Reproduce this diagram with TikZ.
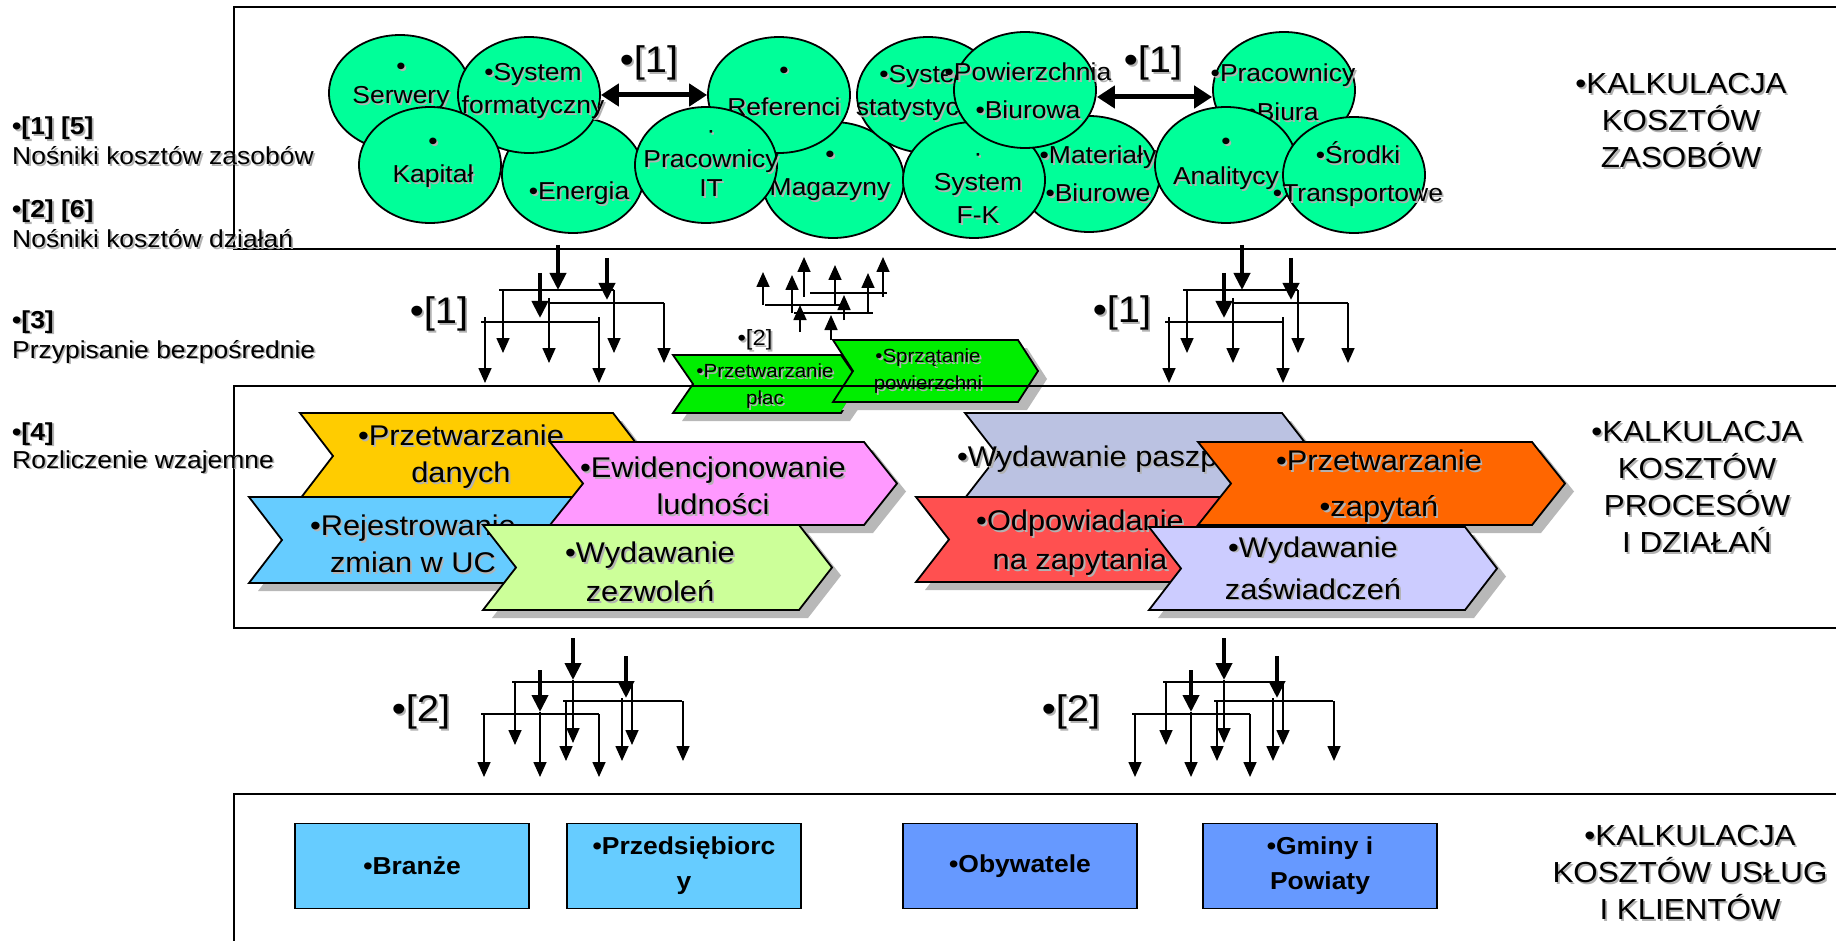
\documentclass[tikz,border=0pt]{standalone}
\usepackage{fontspec}
\setmainfont{Liberation Sans}[FakeStretch=1.08]
\usetikzlibrary{arrows.meta,shapes.geometric}

\definecolor{ellgreen}{HTML}{00FF99}
\definecolor{chgreen}{HTML}{00EE00}
\definecolor{yellowc}{HTML}{FFCC00}
\definecolor{bluec}{HTML}{66CCFF}
\definecolor{pinkc}{HTML}{FF99FF}
\definecolor{limec}{HTML}{CCFF99}
\definecolor{lavgray}{HTML}{BBC2E2}
\definecolor{redc}{HTML}{FF5050}
\definecolor{orangec}{HTML}{FF6600}
\definecolor{lavc}{HTML}{CCCCFF}
\definecolor{boxlb}{HTML}{66CCFF}
\definecolor{boxdb}{HTML}{6699FF}

\tikzset{
  ell/.style={ellipse, draw, line width=1.8pt, fill=ellgreen,
    minimum width=142pt, minimum height=116pt, inner sep=0pt},
  etext/.style={font=\fontsize{24.5}{29}\selectfont, align=center, inner sep=0pt},
  ctext/.style={font=\fontsize{28.5}{37}\selectfont, align=center, inner sep=0pt},
  gtext/.style={font=\fontsize{19}{27}\selectfont, align=center, inner sep=0pt},
  title/.style={font=\fontsize{29}{37}\selectfont, align=center, inner sep=0pt},
  lefttxt/.style={font=\fontsize{24.5}{28}\selectfont, inner sep=0pt, anchor=base west},
  reflabel/.style={font=\fontsize{37}{40}\selectfont, inner sep=0pt},
  cbox/.style={draw, line width=1.8pt, minimum width=234pt, minimum height=85pt,
    inner sep=0pt, align=center, font=\bfseries\fontsize{24.5}{35}\selectfont},
  frame/.style={line width=2pt},
  treeln/.style={line width=1.6pt},
  thinarr/.style={line width=1.6pt, -{Triangle[length=15pt,width=13pt]}},
  thickarr/.style={line width=4pt, -{Triangle[length=17pt,width=16pt]}},
  dblarr/.style={line width=5pt,
    {Triangle[length=18pt,width=22pt]}-{Triangle[length=18pt,width=22pt]}},
  chshadow/.style={fill=black!28},
  txtshadow/.style={text=black!30, xshift=1.8pt, yshift=-1.8pt},
  pics/chev/.style args={#1/#2/#3/#4}{code={
    \fill[chshadow] (9,8) -- ++(#1,0) -- ++(#3,#2/2) -- ++(-#3,#2/2)
       -- ++(-#1,0) -- ++(#3,-#2/2) -- cycle;
    \draw[line width=1.8pt, fill=#4] (0,0) -- ++(#1,0) -- ++(#3,#2/2)
       -- ++(-#3,#2/2) -- ++(-#1,0) -- ++(#3,-#2/2) -- cycle;
  }}
}

% text with a soft grey drop shadow: [style]{name}{(position)}{text}
\newcommand\stext[4][]{%
  \node[#1, txtshadow] (#2-sh) at #3 {#4};
  \node[#1] (#2) at #3 {#4};}

% branching arrows between the resource and activity levels
\newcommand\downtree[1]{%
  \begin{scope}[xshift=#1]
    \draw[treeln] (-59,290) -- (56,290) (-10,303) -- (106,303) (-77,322) -- (41,322);
    \draw[thinarr] (-55,290) -- (-55,353);
    \draw[thinarr] (56,290) -- (56,353);
    \draw[thinarr] (-9,298) -- (-9,363);
    \draw[thinarr] (106,303) -- (106,363);
    \draw[thinarr] (-73,317) -- (-73,383);
    \draw[thinarr] (41,317) -- (41,383);
    \draw[thickarr] (0,245) -- (0,290);
    \draw[thickarr] (49,258) -- (49,300);
    \draw[thickarr] (-18,273) -- (-18,318);
  \end{scope}}

% branching arrows between the activity and client levels
\newcommand\lowtree[1]{%
  \begin{scope}[xshift=#1]
    \draw[treeln] (-61,682) -- (60,682) (-10,701) -- (109,701) (-92,714) -- (26,714);
    \draw[thinarr] (-58,682) -- (-58,745);
    \draw[thinarr] (59,682) -- (59,745);
    \draw[thinarr] (-7,701) -- (-7,761);
    \draw[thinarr] (110,701) -- (110,761);
    \draw[thinarr] (-89,714) -- (-89,777);
    \draw[thinarr] (26,714) -- (26,777);
    \draw[thinarr] (0,680) -- (0,743);
    \draw[thinarr] (49,698) -- (49,761);
    \draw[thinarr] (-33,712) -- (-33,777);
    \draw[thickarr] (0,638) -- (0,680);
    \draw[thickarr] (53,656) -- (53,698);
    \draw[thickarr] (-33,670) -- (-33,712);
  \end{scope}}

\begin{document}
\begin{tikzpicture}[x=1pt, y=-1pt]
\useasboundingbox[fill=white] (0,0) rectangle (1836,941);

% ---- resource ellipses (drawing order gives the overlaps) ----
\node[ell] (ser) at (400,93) {};
\stext[etext]{serT}{(401,86)}{•\\Serwery}
\node[ell] (ene) at (573,175) {};
\stext[etext]{eneT}{(579,193)}{•Energia}
\node[ell] (sysi) at (529,95) {};
\stext[etext]{sysiT}{(533,91)}{•System\\[4pt]formatyczny}
\node[ell] (kap) at (430,165) {};
\stext[etext]{kapT}{(433,163)}{•\\[4pt]Kapitał}
\node[ell] (mag) at (833,180) {};
\stext[etext]{magT}{(830,176)}{•\\[4pt]Magazyny}
\node[ell] (ref) at (779,95) {};
\stext[etext]{refT}{(784,91)}{•\\[8pt]Referenci}
\node[ell] (prit) at (706,165) {};
\stext[etext]{pritT}{(711,164)}{·\\Pracownicy\\IT}
\node[ell] (syss) at (928,95) {};
\stext[etext]{syssT}{(928,93)}{•System\\[4pt]statystyczny}
\node[ell] (mat) at (1089,174) {};
\stext[etext]{matT}{(1098,174)}{•Materiały\\[9pt]•Biurowe}
\node[ell] (sfk) at (974,180) {};
\stext[etext]{sfkT}{(978,189)}{·\\System\\[4pt]F-K}
\node[ell] (pow) at (1025,90) {};
\stext[etext]{powT}{(1028,91)}{•Powierzchnia\\[9pt]•Biurowa}
\node[ell] (prb) at (1284,90) {};
\stext[etext]{prbT}{(1283,92)}{•Pracownicy\\[10pt]•Biura}
\node[ell] (ana) at (1226,165) {};
\stext[etext]{anaT}{(1226,164)}{•\\[6pt]Analitycy}
\node[ell] (srt) at (1354,175) {};
\stext[etext]{srtT}{(1358,174)}{•Środki\\[9pt]•Transportowe}

\draw[dblarr] (sysi.east) -- (ref.west);
\draw[dblarr] ([yshift=-7pt]pow.east) -- ([yshift=-7pt]prb.west);
\stext[reflabel]{r1a}{(649,63)}{•[1]}
\stext[reflabel]{r1b}{(1153,63)}{•[1]}

% ---- assignment arrows, resources -> activities ----
\downtree{558pt}
\downtree{1242pt}
\stext[reflabel]{r1c}{(439,314)}{•[1]}
\stext[reflabel]{r1d}{(1122,313)}{•[1]}

% ---- support activities ----
\pic at (673,355) {chev={168/58/20/chgreen}};
\stext[gtext]{plac}{(765,386)}{•Przetwarzanie\\płac}
\pic at (833,340) {chev={185/62/20/chgreen}};
\stext[gtext]{sprz}{(928,371)}{•Sprzątanie\\powierzchni}
\coordinate (sprc) at (831,340);
\stext[font=\fontsize{22}{24}\selectfont, inner sep=0pt]{r2s}{(755,340)}{•[2]}

% reciprocal allocation arrows
\draw[treeln] (794,313) -- (873,313) (765,305) -- (844,305) (810,293) -- (887,293);
\draw[thinarr] (792,313) -- (792,275);
\draw[thinarr] (868,313) -- (868,273);
\draw[thinarr] (763,305) -- (763,272);
\draw[thinarr] (835,305) -- (835,265);
\draw[thinarr] (804,297) -- (804,257);
\draw[thinarr] (883,297) -- (883,257);
\draw[thinarr] (sprc) -- (831,315);
\draw[thinarr] (800,332) -- (800,305);
\draw[thinarr] (844,320) -- (844,295);

% ---- processes and activities ----
\pic at (300,413) {chev={313/86/33/yellowc}};
\stext[ctext]{pdT}{(461,457)}{•Przetwarzanie\\danych}
\pic at (249,497) {chev={333/86/33/bluec}};
\stext[ctext]{rzT}{(413,544)}{•Rejestrowanie\\zmian w UC}
\pic at (550,442) {chev={314/83/33/pinkc}};
\stext[ctext]{elT}{(713,486)}{•Ewidencjonowanie\\ludności}
\pic at (483,525) {chev={316/85/33/limec}};
\stext[ctext]{wzT}{(650,572)}{•Wydawanie\\[2pt]zezwoleń}

\pic at (965,413) {chev={317/85/33/lavgray}};
\stext[ctext, anchor=west]{wpT}{(957,459)}{•Wydawanie paszportów}
\pic at (916,497) {chev={325/85/33/redc}};
\stext[ctext]{ozT}{(1080,543)}{•Odpowiadanie\\[2pt]na zapytania}
\pic at (1198,442) {chev={334/83/33/orangec}};
\stext[ctext]{pzT}{(1379,486)}{•Przetwarzanie\\[9pt]•zapytań}
\pic at (1149,527) {chev={316/83/32/lavc}};
\stext[ctext]{wsT}{(1313,568)}{•Wydawanie\\[5pt]zaświadczeń}

% ---- assignment arrows, activities -> clients ----
\lowtree{573pt}
\lowtree{1224pt}
\stext[reflabel]{r2a}{(421,712)}{•[2]}
\stext[reflabel]{r2b}{(1071,712)}{•[2]}

% ---- clients ----
\node[cbox, fill=boxlb] (bra) at (412,866) {•Branże};
\node[cbox, fill=boxlb] (prz) at (684,866) {•Przedsiębiorc\\y};
\node[cbox, fill=boxdb] (oby) at (1020,866) {•Obywatele};
\node[cbox, fill=boxdb] (gmi) at (1320,866) {•Gminy i\\Powiaty};

% ---- level frames ----
\draw[frame] (1850,7) -- (234,7) -- (234,249) -- (1850,249);
\draw[frame] (1850,386) -- (234,386) -- (234,628) -- (1850,628);
\draw[frame] (1850,794) -- (234,794) -- (234,950);

% ---- level titles ----
\stext[title]{t1}{(1681,121)}{•KALKULACJA\\KOSZTÓW\\ZASOBÓW}
\stext[title]{t2}{(1697,487)}{•KALKULACJA\\KOSZTÓW\\PROCESÓW\\I DZIAŁAŃ}
\stext[title]{t3}{(1690,873)}{•KALKULACJA\\KOSZTÓW USŁUG\\I KLIENTÓW}

% ---- legend ----
\stext[lefttxt]{k1}{(12,135)}{\bfseries •[1] [5]}
\stext[lefttxt]{k1t}{(12,165)}{Nośniki kosztów zasobów}
\stext[lefttxt]{k2}{(12,218)}{\bfseries •[2] [6]}
\stext[lefttxt]{k2t}{(12,248)}{Nośniki kosztów działań}
\stext[lefttxt]{k3}{(12,328)}{\bfseries •[3]}
\stext[lefttxt]{k3t}{(12,358)}{Przypisanie bezpośrednie}
\stext[lefttxt]{k4}{(12,440)}{\bfseries •[4]}
\stext[lefttxt]{k4t}{(12,468)}{Rozliczenie wzajemne}
\end{tikzpicture}
\end{document}
